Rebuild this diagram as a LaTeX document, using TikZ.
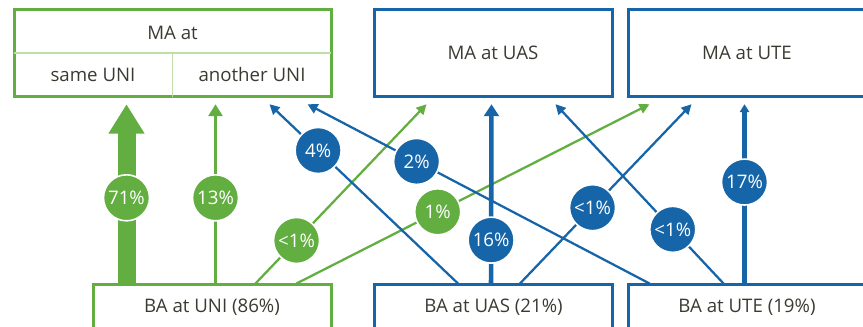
\documentclass[tikz,border=0pt]{standalone}
\usepackage{fontspec}
\setmainfont{Open Sans}
\usetikzlibrary{arrows.meta}
\definecolor{uniGreen}{RGB}{98,174,64}
\definecolor{uasBlue}{RGB}{21,101,168}
\definecolor{lightGreen}{RGB}{190,222,170}
\definecolor{textGray}{RGB}{59,58,50}
\tikzset{
  txt/.style={text=textGray,font=\fontsize{14}{17}\selectfont},
  mabox/.style={rectangle,draw,line width=2.25pt,minimum width=178.5pt,minimum height=65.6pt,inner sep=0pt,txt},
  babox/.style={rectangle,draw,line width=2.25pt,minimum width=178.5pt,minimum height=33pt,inner sep=0pt,txt},
  pct/.style={circle,draw=white,line width=1.2pt,minimum size=34.5pt,inner sep=0pt,text=white,font=\fontsize{14}{16}\selectfont},
  flow/.style={line width=1.7pt,-{Triangle[length=7.5pt,width=7.5pt]}},
  bigflow/.style={line width=3.4pt,-{Triangle[length=9pt,width=11pt]}}
}
\begin{document}
\begin{tikzpicture}[x=0.75pt,y=-0.75pt]
\useasboundingbox (0,0) rectangle (863,327);
% MA boxes
\path (172.5,53) node(maUni)[mabox,draw=uniGreen,minimum width=237.75pt]{}
(493,53) node(maUas)[mabox,draw=uasBlue]{MA at UAS}
(747,53) node(maUte)[mabox,draw=uasBlue]{MA at UTE};
\draw[lightGreen,line width=1pt,shorten <=1.1pt,shorten >=1.1pt] (maUni.west) -- (maUni.east);
\draw[lightGreen,line width=1pt,shorten >=1.1pt] (maUni.center) -- (maUni.south);
\path (172.5,33) node(maHead)[txt]{MA at}
(93,75) node(maSame)[txt]{same UNI}
(252,75) node(maOther)[txt]{another UNI};
% BA boxes
\path (212,307) node(baUni)[babox,draw=uniGreen]{BA at UNI (86\%)}
(493.5,307) node(baUas)[babox,draw=uasBlue]{BA at UAS (21\%)}
(747,307) node(baUte)[babox,draw=uasBlue]{BA at UTE (19\%)};
% flows from UNI
\draw[uniGreen,line width=13.5pt,-{Triangle[length=22pt,width=25.5pt]}] ([shift={(35,0)}]baUni.north west) -- node[pct,fill=uniGreen,pos=.478]{71\%} ([shift={(114,6)}]maUni.south west);
\draw[uniGreen,line width=2.4pt,-{Triangle[length=9pt,width=10.5pt]}] ([shift={(124,0)}]baUni.north west) -- node[pct,fill=uniGreen,pos=.478]{13\%} ([shift={(203,6)}]maUni.south west);
\draw[uniGreen,flow] ([shift={(164,0)}]baUni.north west) -- node[pct,fill=uniGreen,pos=.24]{<1\%} ([shift={(54,6)}]maUas.south west);
\draw[uniGreen,flow] ([shift={(205,0)}]baUni.north west) -- node[pct,fill=uniGreen,pos=.40]{1\%} ([shift={(23,6)}]maUte.south west);
% flows from UAS
\draw[uasBlue,flow] ([shift={(85,0)}]baUas.north west) -- node[pct,fill=uasBlue,pos=.742]{4\%} ([shift={(257,6)}]maUni.south west);
\draw[uasBlue,bigflow] ([shift={(118,0)}]baUas.north west) -- node[pct,fill=uasBlue,pos=.242]{16\%} ([shift={(119,6)}]maUas.south west);
\draw[uasBlue,flow] ([shift={(147,0)}]baUas.north west) -- node[pct,fill=uasBlue,pos=.423]{<1\%} ([shift={(65,6)}]maUte.south west);
% flows from UTE
\draw[uasBlue,flow] ([shift={(23,0)}]baUte.north west) -- node[pct,fill=uasBlue,pos=.681]{2\%} ([shift={(295,6)}]maUni.south west);
\draw[uasBlue,flow] ([shift={(97,0)}]baUte.north west) -- node[pct,fill=uasBlue,pos=.302]{<1\%} ([shift={(183,6)}]maUas.south west);
\draw[uasBlue,line width=3.4pt,-{Triangle[length=6pt,width=7pt]}] ([shift={(118,0)}]baUte.north west) -- node[pct,fill=uasBlue,pos=.566]{17\%} ([shift={(118,6)}]maUte.south west);
\end{tikzpicture}
\end{document}
